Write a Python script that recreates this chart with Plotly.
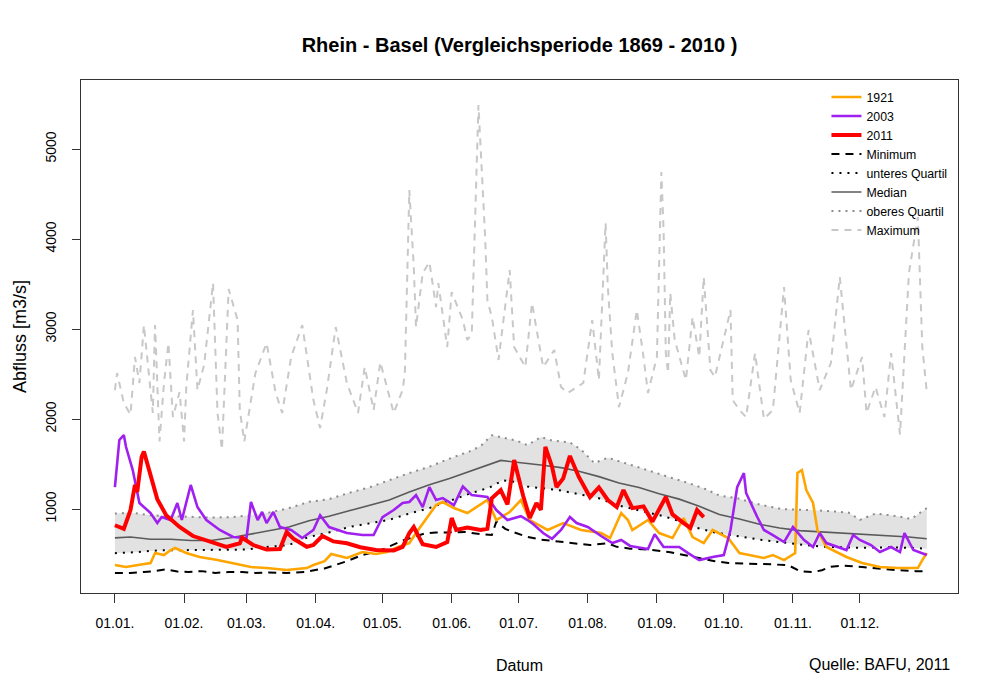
import plotly.graph_objects as go

# ---------------- data (day of year, discharge m3/s) ----------------
month_days = [1, 32, 60, 91, 121, 152, 182, 213, 244, 274, 305, 335]
month_labels = ["01.01.", "01.02.", "01.03.", "01.04.", "01.05.", "01.06.",
                "01.07.", "01.08.", "01.09.", "01.10.", "01.11.", "01.12."]
y_ticks = [1000, 2000, 3000, 4000, 5000]

med_day = [1, 8, 17, 26, 35, 44, 53, 62, 70, 79, 88, 97, 106, 115, 124, 133, 142, 151, 160, 169,
           174, 181, 186, 192, 201, 209, 218, 227, 236, 245, 254, 263, 272, 281, 290, 299, 308, 315, 322, 329,
           335, 342, 349, 357, 365]
med_val = [680, 690, 665, 665, 650, 650, 680, 720, 760, 800, 870, 920, 980, 1040, 1100, 1190, 1270, 1340, 1420, 1500,
           1540, 1520, 1510, 1490, 1460, 1420, 1360, 1290, 1240, 1170, 1110, 1030, 940, 890, 830, 790, 760, 750, 740, 735,
           720, 715, 700, 690, 670]

uq_day = [1, 8, 17, 26, 35, 44, 53, 62, 70, 79, 88, 97, 106, 115, 124, 133, 142, 151, 160, 165,
          170, 176, 181, 186, 192, 197, 205, 210, 216, 222, 230, 240, 250, 258, 266, 272, 280, 290, 300, 310,
          320, 330, 335, 342, 352, 358, 365]
uq_val = [950, 960, 930, 920, 910, 905, 910, 930, 960, 1010, 1080, 1110, 1180, 1240, 1320, 1400, 1470, 1560, 1640, 1700,
          1820, 1790, 1760, 1710, 1800, 1760, 1740, 1660, 1510, 1570, 1510, 1430, 1350, 1290, 1220, 1150, 1120, 1050, 1000, 990,
          980, 960, 880, 950, 920, 890, 1010]

lq_day = [1, 10, 20, 31, 45, 60, 70, 79, 88, 97, 106, 115, 124, 133, 142, 151, 160, 169, 175, 181,
          186, 193, 200, 210, 218, 225, 233, 240, 247, 255, 262, 270, 280, 290, 300, 310, 320, 335, 350, 365]
lq_val = [510, 520, 540, 545, 550, 550, 580, 600, 690, 740, 800, 840, 880, 950, 1010, 1090, 1170, 1240, 1320, 1300,
          1250, 1230, 1210, 1160, 1120, 1050, 1000, 960, 920, 860, 790, 740, 700, 660, 630, 600, 580, 570, 575, 560]

min_day = [1, 8, 14, 19, 24, 29, 34, 40, 46, 52, 58, 64, 70, 78, 86, 95, 105, 112, 120, 130,
           140, 145, 150, 158, 165, 170, 172, 176, 180, 186, 192, 200, 208, 214, 222, 226, 232, 240, 250, 260,
           270, 276, 286, 296, 303, 308, 314, 318, 322, 328, 336, 344, 352, 360, 365]
min_val = [290, 290, 300, 310, 330, 305, 300, 310, 290, 300, 300, 290, 295, 290, 300, 340, 420, 490, 540, 650,
           730, 740, 740, 745, 720, 711, 860, 780, 740, 690, 660, 640, 620, 600, 620, 580, 560, 550, 520, 470,
           420, 400, 395, 385, 375, 310, 300, 320, 360, 370, 355, 335, 320, 310, 310]

max_day = [1, 2, 5, 8, 10, 12, 14, 18, 19, 21, 23, 25, 27, 30, 32, 33, 36, 38, 41, 45,
           47, 49, 52, 56, 57, 59, 64, 69, 73, 76, 80, 85, 90, 93, 96, 100, 105, 110, 113, 117,
           120, 126, 130, 131, 133, 135, 136, 139, 142, 145, 146, 150, 152, 157, 159, 161, 164, 167, 168, 170,
           173, 178, 180, 185, 188, 193, 198, 201, 204, 211, 215, 218, 221, 222, 224, 227, 231, 235, 238, 240,
           244, 246, 247, 248, 249, 250, 252, 257, 260, 263, 265, 268, 270, 277, 278, 281, 284, 288, 292, 296,
           301, 304, 308, 312, 317, 322, 326, 329, 331, 336, 338, 342, 346, 349, 353, 357, 361, 363, 365]
max_val = [2322, 2511, 2178, 2050, 2689, 2400, 3044, 2067, 3044, 1750, 2400, 2844, 2022, 2300, 1750, 2356, 3211, 2322, 2600, 3511,
           2067, 1660, 3444, 3100, 2100, 1750, 2511, 2844, 2300, 2067, 2689, 3044, 2211, 1900, 2322, 3022, 2400, 2067, 2578, 2100,
           2633, 2067, 2322, 2511, 4544, 3689, 3022, 3622, 3744, 3244, 3511, 2800, 3411, 3100, 2878, 2950, 5489, 4022, 3322, 3133,
           2656, 3656, 2800, 2578, 3289, 2578, 2767, 2356, 2289, 2400, 3100, 2433, 4178, 3467, 2733, 2133, 2511, 3211, 2689, 2289,
           2689, 4744, 4100, 2733, 2511, 3400, 2878, 2433, 3133, 2689, 3578, 2544, 2467, 3211, 2211, 2100, 2022, 2733, 2000, 2100,
           3467, 2433, 2067, 2989, 2322, 2622, 3578, 2800, 2322, 2689, 2067, 2356, 2022, 2733, 1830, 3622, 4244, 2800, 2300]

y1921_day = [1, 6, 12, 17, 19, 23, 26, 28, 33, 39, 47, 54, 62, 69, 78, 87, 90, 95, 98, 105,
             112, 118, 123, 128, 133, 136, 141, 145, 148, 153, 159, 163, 168, 172, 178, 183, 187, 195, 202, 210,
             219, 223, 228, 231, 233, 240, 245, 251, 256, 260, 265, 269, 276, 281, 292, 296, 301, 306, 307, 309,
             311, 314, 316, 320, 329, 336, 344, 352, 361, 363, 365]
y1921_val = [378, 356, 380, 400, 511, 489, 544, 567, 511, 467, 433, 400, 356, 344, 322, 344, 378, 420, 500, 456,
             522, 500, 522, 578, 622, 733, 911, 1044, 1078, 1011, 955, 1022, 1100, 878, 967, 1100, 878, 767, 844, 767,
             733, 678, 955, 878, 767, 878, 733, 678, 900, 689, 622, 767, 678, 511, 456, 489, 433, 511, 1400, 1433,
             1211, 1067, 767, 578, 467, 400, 356, 344, 344, 433, 511]

y2003_day = [1, 3, 5, 6, 9, 10, 12, 17, 20, 22, 26, 29, 31, 35, 38, 42, 48, 54, 60, 62,
             65, 67, 69, 72, 75, 80, 85, 90, 93, 97, 101, 105, 112, 117, 121, 126, 130, 133, 136, 139,
             142, 145, 148, 153, 157, 161, 168, 172, 177, 183, 186, 188, 193, 197, 201, 205, 208, 213, 219, 224,
             228, 232, 240, 243, 247, 254, 258, 263, 269, 274, 277, 280, 283, 284, 289, 292, 296, 301, 305, 310,
             314, 317, 320, 325, 329, 332, 335, 340, 344, 349, 353, 355, 359, 365]
y2003_val = [1244, 1767, 1822, 1689, 1433, 1300, 1067, 955, 844, 911, 878, 1067, 878, 1267, 1022, 878, 767, 689, 678, 1078,
             878, 967, 844, 967, 800, 767, 678, 767, 930, 800, 767, 733, 711, 711, 911, 989, 1067, 1078, 1155, 1022,
             1244, 1100, 1122, 1044, 1250, 1155, 1133, 989, 878, 920, 878, 844, 733, 670, 767, 911, 844, 800, 700, 622,
             656, 590, 555, 720, 578, 578, 511, 433, 467, 489, 767, 1244, 1400, 1178, 911, 767, 711, 633, 800, 656,
             578, 733, 622, 578, 544, 711, 656, 600, 522, 578, 522, 733, 544, 489]

y2011_day = [1, 5, 8, 10, 11, 13, 14, 17, 20, 24, 30, 36, 44, 51, 57, 58, 63, 69, 75, 78,
             81, 87, 90, 94, 99, 105, 111, 118, 126, 130, 133, 135, 139, 145, 150, 152, 154, 159, 165, 168,
             170, 174, 177, 180, 184, 187, 190, 192, 194, 197, 199, 202, 205, 209, 214, 218, 222, 226, 229, 233,
             238, 242, 248, 251, 256, 259, 262, 265]
y2011_val = [820, 780, 990, 1270, 1190, 1580, 1640, 1360, 1110, 930, 800, 700, 630, 580, 620, 680, 600, 550, 555, 744,
             670, 580, 600, 700, 640, 620, 575, 545, 540, 580, 733, 800, 610, 578, 633, 900, 767, 795, 767, 780,
             1120, 1210, 1050, 1544, 1150, 900, 1067, 990, 1690, 1470, 1244, 1340, 1590, 1356, 1133, 1240, 1100, 1022, 1211, 1010,
             1030, 860, 1133, 940, 844, 790, 989, 910]

# ---------------- figure ----------------
FONT = "Liberation Sans, Arial, Helvetica, sans-serif"
fig = go.Figure()

# interquartile band
fig.add_trace(go.Scatter(x=lq_day, y=lq_val, mode="lines", line=dict(width=0, color="rgba(0,0,0,0)"),
                         showlegend=False, hoverinfo="skip"))
fig.add_trace(go.Scatter(x=uq_day, y=uq_val, mode="lines", line=dict(width=0, color="rgba(0,0,0,0)"),
                         fill="tonexty", fillcolor="#E2E2E2", showlegend=False, hoverinfo="skip"))

fig.add_trace(go.Scatter(x=max_day, y=max_val, mode="lines", name="Maximum", legendrank=8,
                         line=dict(color="#C8C8C8", width=2, dash="7px,6px")))
fig.add_trace(go.Scatter(x=uq_day, y=uq_val, mode="lines", name="oberes Quartil", legendrank=7,
                         line=dict(color="#8C8C8C", width=2, dash="2px,5px")))
fig.add_trace(go.Scatter(x=med_day, y=med_val, mode="lines", name="Median", legendrank=6,
                         line=dict(color="#5A5A5A", width=1.6)))
fig.add_trace(go.Scatter(x=lq_day, y=lq_val, mode="lines", name="unteres Quartil", legendrank=5,
                         line=dict(color="#000000", width=2, dash="2px,6px")))
fig.add_trace(go.Scatter(x=min_day, y=min_val, mode="lines", name="Minimum", legendrank=4,
                         line=dict(color="#000000", width=2, dash="8px,6px")))
fig.add_trace(go.Scatter(x=y1921_day, y=y1921_val, mode="lines", name="1921", legendrank=1,
                         line=dict(color="#FFA500", width=2.6)))
fig.add_trace(go.Scatter(x=y2003_day, y=y2003_val, mode="lines", name="2003", legendrank=2,
                         line=dict(color="#A020F0", width=2.6)))
fig.add_trace(go.Scatter(x=y2011_day, y=y2011_val, mode="lines", name="2011", legendrank=3,
                         line=dict(color="#FF0000", width=4)))

# the page body adds an 8px offset, so the figure is 8px smaller than the window
fig.update_layout(
    width=992, height=687,
    margin=dict(l=73, r=42, t=72, b=102),
    paper_bgcolor="white", plot_bgcolor="white",
    font=dict(family=FONT, size=14, color="#000000"),
    title=dict(text="<b>Rhein - Basel (Vergleichsperiode 1869 - 2010 )</b>",
               x=0.5, xref="paper", xanchor="center",
               y=0.946, yref="container", yanchor="middle",
               font=dict(family=FONT, size=20, color="#000000")),
    showlegend=True,
    legend=dict(x=0.85, y=0.995, xanchor="left", yanchor="top",
                traceorder="normal",
                bgcolor="rgba(0,0,0,0)", borderwidth=0,
                font=dict(family=FONT, size=12.3, color="#000000"),
                tracegroupgap=0, itemwidth=30),
)

fig.update_xaxes(
    range=[-14.2, 379], showgrid=False, zeroline=False, automargin=False,
    tickmode="array", tickvals=month_days, ticktext=month_labels,
    ticks="outside", ticklen=9, tickcolor="#333333", tickwidth=1,
    ticklabelstandoff=8,
    showline=True, mirror=True, linecolor="#333333", linewidth=1,
    tickfont=dict(family=FONT, size=14),
    title=dict(text="Datum", standoff=30, font=dict(family=FONT, size=16)),
)
fig.update_yaxes(
    range=[67, 5767], showgrid=False, zeroline=False, automargin=False,
    tickmode="array", tickvals=y_ticks,
    ticks="outside", ticklen=8, tickcolor="#333333", tickwidth=1,
    tickangle=-90, ticklabelstandoff=10,
    showline=True, mirror=True, linecolor="#333333", linewidth=1,
    tickfont=dict(family=FONT, size=14),
    title=dict(text="Abfluss [m3/s]", standoff=12, font=dict(family=FONT, size=18)),
)

fig.add_annotation(text="Quelle: BAFU, 2011", xref="paper", yref="paper",
                   x=0.911, y=-0.14, xanchor="center", yanchor="middle", showarrow=False,
                   font=dict(family=FONT, size=16, color="#000000"))

fig.write_html("out.html")
